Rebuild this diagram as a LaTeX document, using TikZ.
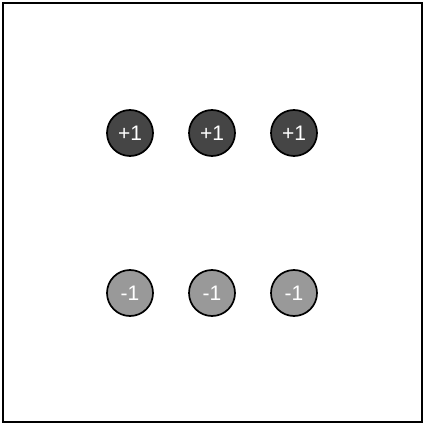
\documentclass[tikz,border=0pt]{standalone}
\usepackage{fontspec}
\setmainfont{Liberation Sans}
\usepackage{tikz}

\begin{document}
\begin{tikzpicture}[x=1pt,y=-1pt,
  plus/.style={circle, draw=black, line width=1.7pt, fill=black!73, text=white, minimum size=46pt, inner sep=0pt, font=\fontsize{21}{21}\selectfont},
  minus/.style={plus, fill=black!40}]
\useasboundingbox (0,0) rectangle (427,427);
\draw[line width=1.5pt] (3,3) rectangle (422,422);
%
\node[plus] (p1) at (130,133) {+1};
\node[plus] (p2) at (212,133) {+1};
\node[plus] (p3) at (294,133) {+1};
%
\node[minus] (m1) at (130,293) {-1};
\node[minus] (m2) at (212,293) {-1};
\node[minus] (m3) at (294,293) {-1};
\end{tikzpicture}
\end{document}
